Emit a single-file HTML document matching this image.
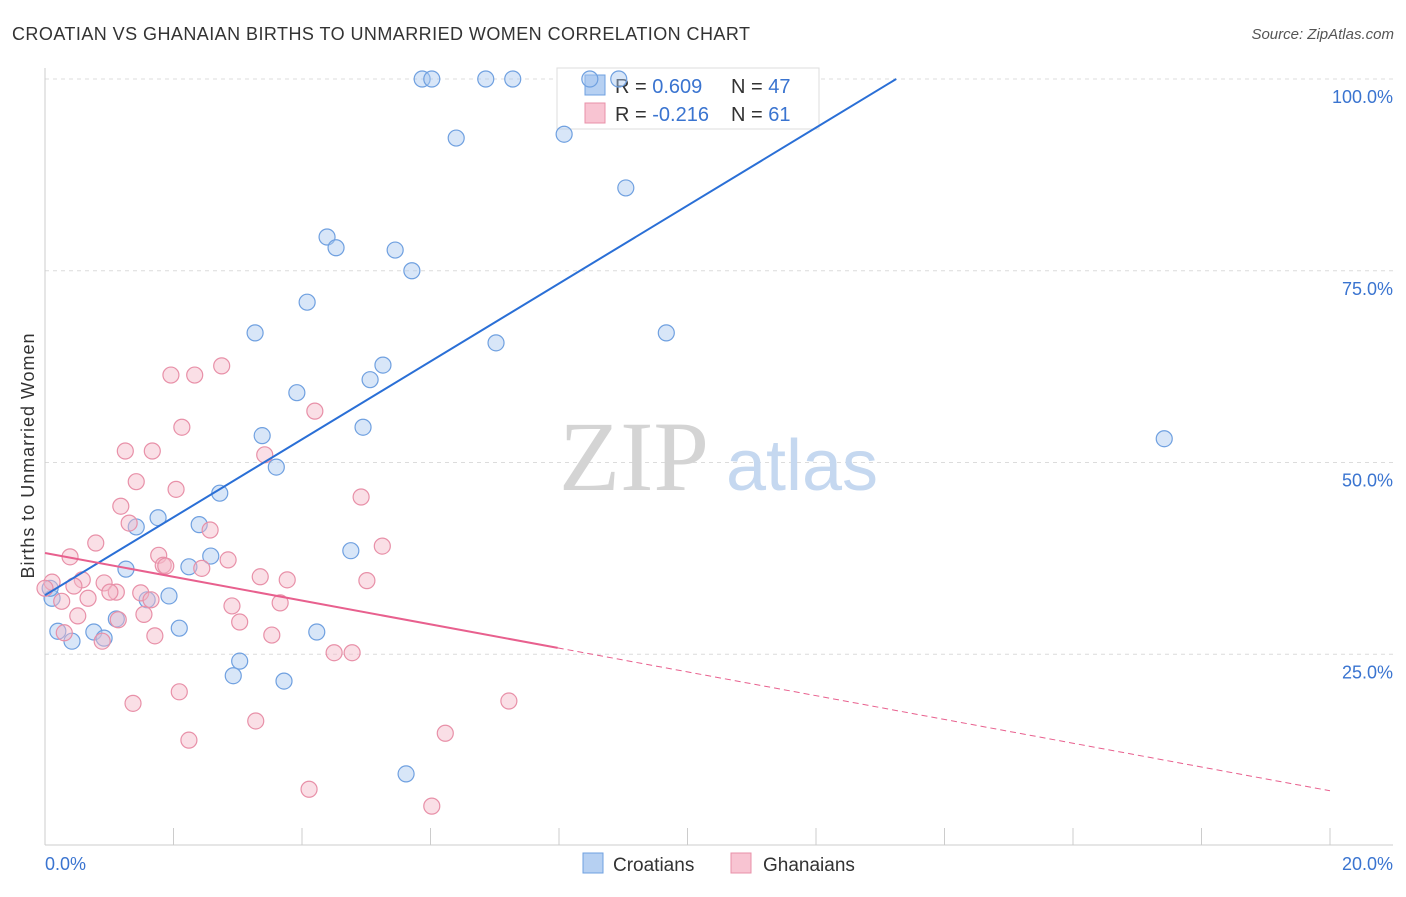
<!DOCTYPE html>
<html><head><meta charset="utf-8">
<style>
body{margin:0;background:#fff;font-family:"Liberation Sans",sans-serif;}
svg text{font-family:"Liberation Sans",sans-serif;}
</style></head>
<body>
<svg id="chart" width="1406" height="892" viewBox="0 0 1406 892" xmlns="http://www.w3.org/2000/svg">
<text x="12" y="40" font-size="18" fill="#333" textLength="738">CROATIAN VS GHANAIAN BIRTHS TO UNMARRIED WOMEN CORRELATION CHART</text>
<text x="1394" y="39" font-size="15" fill="#555" text-anchor="end" font-style="italic">Source: ZipAtlas.com</text>
<g id="grid"></g>
<g>
<text x="634" y="490" font-size="100" fill="#d4d4d4" style="font-family:'Liberation Serif',serif" text-anchor="middle">ZIP</text>
<text x="802" y="490" font-size="72" fill="#c5d8f0" text-anchor="middle">atlas</text>
</g>
<g>
<rect x="557" y="68" width="262" height="61" fill="#fff" stroke="#ddd"/>
<rect x="585" y="75" width="20" height="20" fill="#b6d0f2" stroke="#6fa0e0"/>
<rect x="585" y="103" width="20" height="20" fill="#f8c4d2" stroke="#e890a8"/>
<text x="615" y="93" font-size="20" fill="#333">R = <tspan fill="#3a74d0">0.609</tspan><tspan x="731">N = </tspan><tspan fill="#3a74d0">47</tspan></text>
<text x="615" y="121" font-size="20" fill="#333">R = <tspan fill="#3a74d0">-0.216</tspan><tspan x="731">N = </tspan><tspan fill="#3a74d0"> 61</tspan></text>
</g>
<g id="marks"></g>
<text transform="translate(34,456) rotate(-90)" font-size="18" fill="#333" text-anchor="middle" textLength="245">Births to Unmarried Women</text>
<text x="45" y="870" font-size="18" fill="#3a74d0">0.0%</text>
<text x="1393" y="870" font-size="18" fill="#3a74d0" text-anchor="end">20.0%</text>
<g>
<rect x="583" y="853" width="20" height="20" fill="#b6d0f2" stroke="#6fa0e0"/>
<text x="613" y="871" font-size="19" fill="#333">Croatians</text>
<rect x="731" y="853" width="20" height="20" fill="#f8c4d2" stroke="#e890a8"/>
<text x="763" y="871" font-size="19" fill="#333">Ghanaians</text>
</g>
</svg>
<script>
const yTicks=[25,50,75,100];
const yTickLabels=["25.0%","50.0%","75.0%","100.0%"];
const xTicks=[2,4,6,8,10,12,14,16,18,20];
const croX=[5.87,6.02,6.86,7.28,8.48,8.93,6.40,8.08,9.04,4.39,4.53,5.45,5.71,4.08,3.27,7.02,9.67,5.26,5.06,3.92,4.95,3.38,3.60,17.42,2.72,1.76,1.42,2.40,4.76,2.58,1.26,2.24,1.93,1.59,0.11,0.20,0.42,0.76,0.92,1.11,2.09,4.23,3.03,2.93,3.72,5.62,0.08];
const croY=[100,100,100,100,100,100,92.3,92.8,85.8,79.4,78.0,77.7,75.0,70.9,66.9,65.6,66.9,62.7,60.8,59.1,54.6,53.5,49.4,53.1,46.0,42.8,41.6,41.9,38.5,37.8,36.1,36.4,32.6,32.1,32.3,28.0,26.7,27.9,27.1,29.6,28.4,27.9,24.1,22.2,21.5,9.4,33.6];
const ghaX=[2.75,1.96,2.33,2.13,4.20,1.25,1.67,3.42,1.42,2.04,4.92,1.18,1.31,2.57,0.79,5.25,0.39,1.77,1.84,2.85,1.88,2.44,3.35,3.77,5.01,0.58,0.92,0.45,1.11,1.01,1.49,0.11,0.0,0.26,1.65,0.67,2.91,3.66,1.54,1.14,0.51,3.03,0.30,1.71,0.89,3.53,4.50,4.78,2.09,1.37,7.22,3.28,2.24,6.23,4.11,6.02];
const ghaY=[62.6,61.4,61.4,54.6,56.7,51.5,51.5,51.0,47.5,46.5,45.5,44.3,42.1,41.2,39.5,39.1,37.7,37.9,36.6,37.3,36.5,36.2,35.1,34.7,34.6,34.7,34.3,33.9,33.1,33.1,33.0,34.4,33.6,31.9,32.1,32.3,31.3,31.7,30.2,29.5,30.0,29.2,27.8,27.4,26.7,27.5,25.2,25.2,20.1,18.6,18.9,16.3,13.8,14.7,7.4,5.2];
const croFit=[32.7,5.08];
const ghaFit=[38.2,-1.55,7.98];
const NS="http://www.w3.org/2000/svg";
const X=v=>45+v*64.25, Y=v=>846-v*7.67;
function mk(tag,attrs,parent){const e=document.createElementNS(NS,tag);for(const k in attrs)e.setAttribute(k,attrs[k]);parent.appendChild(e);return e;}
const grid=document.getElementById('grid'), marks=document.getElementById('marks'), svg=document.getElementById('chart');
yTicks.forEach((t,i)=>{
 const l=mk('line',{x1:45,x2:1393,y1:Y(t),y2:Y(t),stroke:'#dcdcdc','stroke-dasharray':'4,4'},grid);
 
 
 const tx=mk('text',{x:1393,y:Y(t)+24,'font-size':18,fill:'#3a74d0','text-anchor':'end'},svg);
 tx.textContent=yTickLabels[i];
 
 
});
const ax=mk('line',{x1:45,x2:45,y1:68,y2:845,stroke:'#ccc'},grid);


const bx=mk('line',{x1:45,x2:1393,y1:845,y2:845,stroke:'#ccc'},grid);


xTicks.forEach(t=>{
 const l=mk('line',{x1:X(t),x2:X(t),y1:828,y2:845,stroke:'#ccc'},grid);
 
 
});
croX.forEach((v,i)=>{
 const c=mk('circle',{cx:X(v),cy:Y(croY[i]),r:8,fill:'rgba(168,200,240,0.45)',stroke:'#6fa0e0','stroke-width':1.2},marks);
 
 
});
ghaX.forEach((v,i)=>{
 const c=mk('circle',{cx:X(v),cy:Y(ghaY[i]),r:8,fill:'rgba(245,184,200,0.45)',stroke:'#e890a8','stroke-width':1.2},marks);
 
 
});
const xEnd=(100-croFit[0])/croFit[1];
const bl=mk('line',{x1:X(0),y1:Y(croFit[0]),x2:X(xEnd),y2:Y(100),stroke:'#2a6fd6','stroke-width':2},marks);


const ps=mk('line',{x1:X(0),y1:Y(ghaFit[0]),x2:X(ghaFit[2]),y2:Y(ghaFit[0]+ghaFit[1]*ghaFit[2]),stroke:'#e8608e','stroke-width':2},marks);


const pd=mk('line',{x1:X(ghaFit[2]),y1:Y(ghaFit[0]+ghaFit[1]*ghaFit[2]),x2:X(20),y2:Y(ghaFit[0]+ghaFit[1]*20),stroke:'#e8608e','stroke-width':1,'stroke-dasharray':'6,4'},marks);


</script>
</body></html>
